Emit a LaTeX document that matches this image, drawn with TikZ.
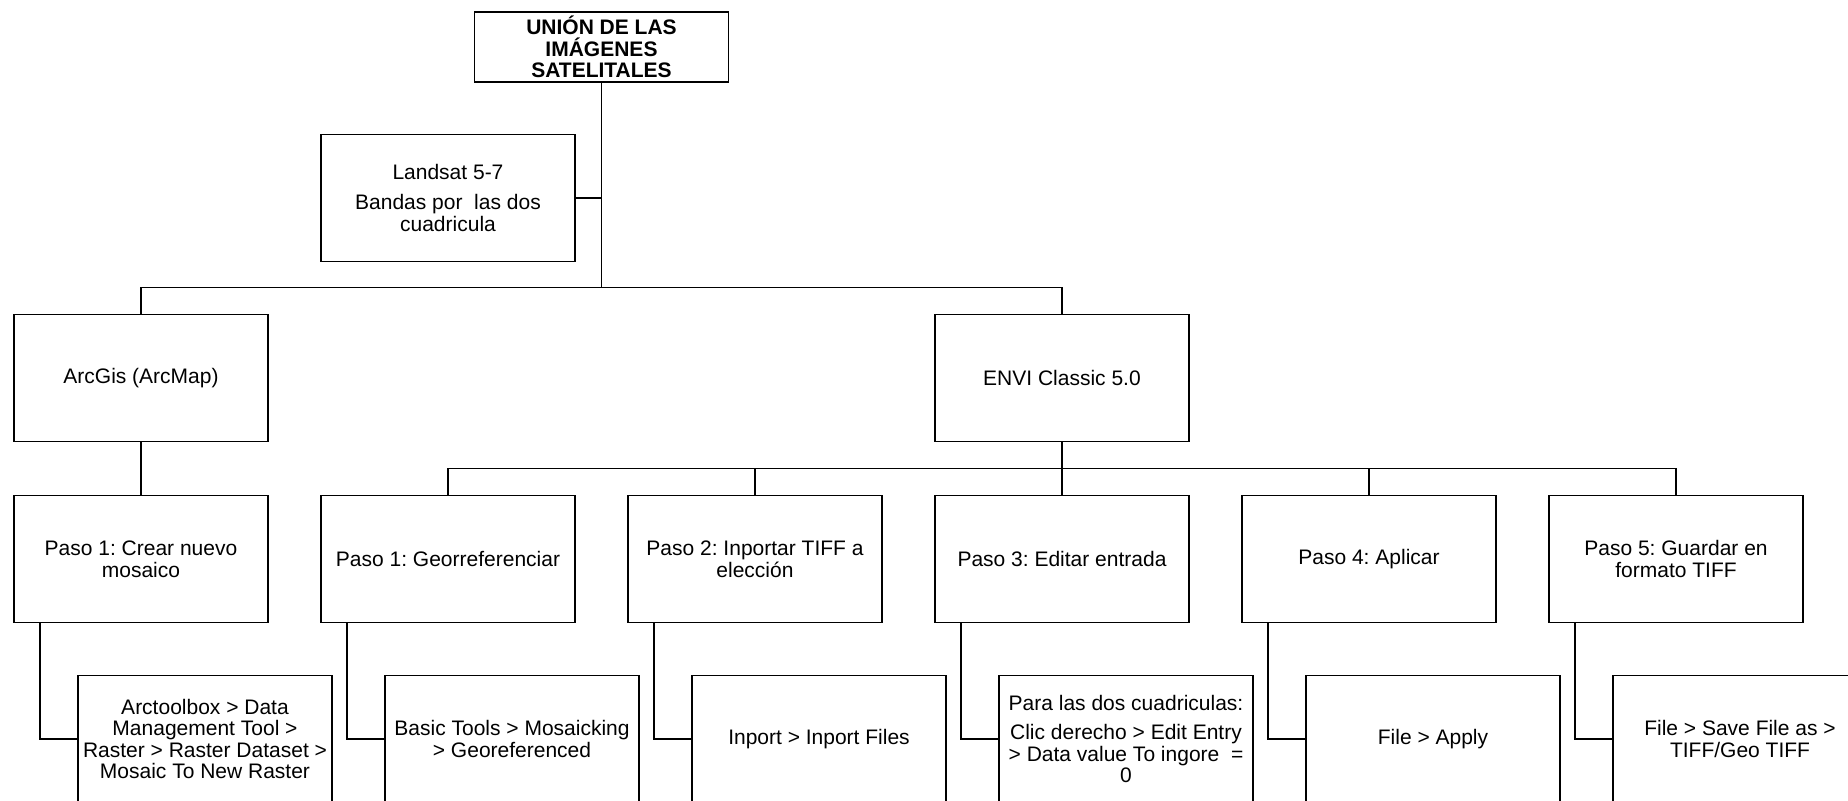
\documentclass[tikz,border=0pt]{standalone}
\usepackage{fontspec}
\setmainfont{Liberation Sans}
\frenchspacing
\usetikzlibrary{positioning,calc}

\begin{document}
\begin{tikzpicture}[
    node distance=26.5pt and 26.5pt,
    box/.style={draw, line width=0.6pt, outer sep=0pt, inner sep=1pt, minimum width=127pt, minimum height=63.5pt, align=center, font=\fontsize{10.5}{10.8}\selectfont},
    title/.style={box, minimum height=35pt, font=\fontsize{10.5}{10.9}\selectfont\bfseries},
    link/.style={line width=0.6pt},
]

\useasboundingbox (0,0) rectangle (924pt,-400.5pt);
\clip (0,0) rectangle (924pt,-400.5pt);

% Pasos
\node[box] (s1) at (70.5pt,-279.5pt) {Paso 1: Crear nuevo\\mosaico};
\node[box, right=of s1] (s2) {Paso 1: Georreferenciar};
\node[box, right=of s2] (s3) {Paso 2: Inportar TIFF a\\elección};
\node[box, right=of s3] (s4) {Paso 3: Editar entrada};
\node[box, right=of s4] (s5) {Paso 4: Aplicar};
\node[box, right=of s5] (s6) {Paso 5: Guardar en\\formato TIFF};

% Detalles
\node[box, below=26.5pt of s1, xshift=32pt] (d1) {Arctoolbox > Data\\Management Tool >\\Raster > Raster Dataset >\\Mosaic To New Raster};
\node[box, below=26.5pt of s2, xshift=32pt] (d2) {Basic Tools > Mosaicking\\> Georeferenced};
\node[box, below=26.5pt of s3, xshift=32pt] (d3) {Inport > Inport Files};
\node[box, below=26.5pt of s4, xshift=32pt] (d4) {Para las dos cuadriculas:\\[4pt]Clic derecho > Edit Entry\\> Data value To ingore\ \ =\\0};
\node[box, below=26.5pt of s5, xshift=32pt] (d5) {File > Apply};
\node[box, below=26.5pt of s6, xshift=32pt] (d6) {File > Save File as >\\TIFF/Geo TIFF};

% Programas
\node[box, above=27pt of s1] (arcgis) {ArcGis (ArcMap)};
\node[box, above=27pt of s4] (envi) {ENVI Classic 5.0};
\node[box, above=117pt of s2] (landsat) {Landsat 5-7\\[4pt]Bandas por\ \ las dos\\cuadricula};
\node[title] (union) at (300.75pt,-23.5pt) {UNIÓN DE LAS\\IMÁGENES\\SATELITALES};

% Conexiones
\draw[link] (union.south) |- ([yshift=13.5pt]arcgis.north) -- (arcgis.north);
\draw[link] (union.south) |- ([yshift=13.5pt]envi.north) -- (envi.north);
\draw[link] (landsat.east) -- (landsat.east -| union.south);
\draw[link] (arcgis) -- (s1);
\foreach \s in {s2,s3,s4,s5,s6}
    \draw[link] (envi.south) |- ([yshift=13.5pt]\s.north) -- (\s.north);
\foreach \i in {1,...,6}
    \draw[link] ([xshift=13pt]s\i.south west) |- (d\i.west);

\end{tikzpicture}
\end{document}
